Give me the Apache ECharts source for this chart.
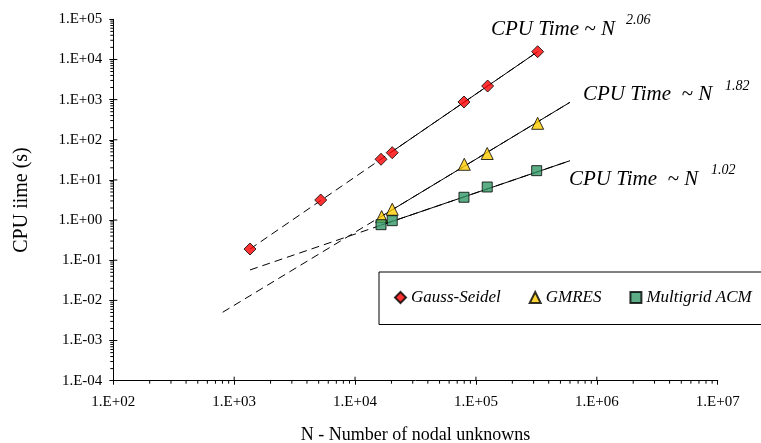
<!DOCTYPE html>
<html>
<head>
<meta charset="utf-8">
<script src="https://cdn.jsdelivr.net/npm/echarts@6/dist/echarts.min.js"></script>
<style>
html,body{margin:0;padding:0;background:#fff;}
#chart{width:761px;height:443px;}
</style>
</head>
<body>
<div id="chart"></div>
<script>
// ---- data ----
const xTickLabels = ['1.E+02','1.E+03','1.E+04','1.E+05','1.E+06','1.E+07'];
const yTickLabels = ['1.E-04','1.E-03','1.E-02','1.E-01','1.E+00','1.E+01','1.E+02','1.E+03','1.E+04','1.E+05'];
const xDecades = [100, 1000, 10000, 100000, 1000000];
const yDecades = [1e-4, 1e-3, 1e-2, 1e-1, 1, 10, 100, 1000, 10000];
const minorMultipliers = [2, 3, 4, 5, 6, 7, 8, 9];

const gsN = [1352, 5200, 16400, 20300, 79600, 125000, 324000];
const gsT = [0.19, 3.16, 32.7, 47.7, 873, 2180, 15600];
const gmresN = [16600, 20300, 80100, 124000, 324000];
const gmresT = [1.22, 1.86, 24.5, 45.5, 257];
const mgN = [16400, 20300, 79600, 124000, 318000];
const mgT = [0.768, 0.966, 3.70, 6.67, 17.0];

// fitted power-law lines (end points)
const gsFitDashed = [[1352, 0.19], [324000, 15600]];
const gsFitSolid = [[20300, 51], [324000, 15600]];
const gmresFitDashed = [[803, 0.00506], [600000, 858]];
const gmresFitSolid = [[16600, 1.25], [600000, 858]];
const mgFitDashed = [[1352, 0.0573], [600000, 30.1]];
const mgFitSolid = [[16400, 0.745], [600000, 30.1]];

const fitLabels = ['CPU Time ~ N', 'CPU Time  ~ N', 'CPU Time  ~ N'];
const fitExponents = ['2.06', '1.82', '1.02'];

const seriesNames = ['Gauss-Seidel', 'GMRES', 'Multigrid ACM'];
const xTitle = 'N - Number of nodal unknowns';
const yTitle = 'CPU iime (s)';

// ---- build ----
const FONT = "'Liberation Serif','Times New Roman',serif";
const pairs = (xs, ys) => xs.map((x, i) => [x, ys[i]]);

const xMinor = [], yMinor = [];
xDecades.forEach(d => minorMultipliers.forEach(m => xMinor.push([d * m, 1e-4])));
yDecades.forEach(d => minorMultipliers.forEach(m => yMinor.push([100, d * m])));
const xMajor = xDecades.slice(1).map(d => [d, 1e-4]);
const yMajor = yDecades.slice(1).map(d => [100, d]);

function tickSeries(data, dir, len) {
  return {
    type: 'custom', silent: true, clip: false, z: 1,
    data: data,
    renderItem: function (params, api) {
      const p = api.coord([api.value(0), api.value(1)]);
      let shape;
      if (dir === 'down') shape = { x1: p[0], y1: p[1], x2: p[0], y2: p[1] + len };
      else if (dir === 'up') shape = { x1: p[0], y1: p[1], x2: p[0], y2: p[1] - len };
      else if (dir === 'left') shape = { x1: p[0] - len, y1: p[1], x2: p[0], y2: p[1] };
      else shape = { x1: p[0], y1: p[1], x2: p[0] + len, y2: p[1] };
      return { type: 'line', shape: shape, style: { stroke: '#000', lineWidth: 1 } };
    }
  };
}

function fitLine(data, dashed) {
  return {
    type: 'line', data: data, symbol: 'none', silent: true, z: 2,
    lineStyle: { color: '#000', width: 1, type: dashed ? [8, 5] : 'solid' },
    animation: false
  };
}

const annPos = [
  { x: 491, y: 31, sx: 626, sy: 21 },
  { x: 583, y: 96, sx: 725, sy: 87 },
  { x: 569, y: 181, sx: 711, sy: 171 }
];
const annGraphics = [];
fitLabels.forEach((t, i) => {
  annGraphics.push({
    type: 'text', left: annPos[i].x, top: annPos[i].y - 12,
    style: { text: t, font: 'italic 21px ' + FONT, fill: '#000' }
  });
  annGraphics.push({
    type: 'text', left: annPos[i].sx, top: annPos[i].sy - 8,
    style: { text: fitExponents[i], font: 'italic 14px ' + FONT, fill: '#000' }
  });
});

const chart = echarts.init(document.getElementById('chart'));
chart.setOption({
  animation: false,
  backgroundColor: '#fff',
  textStyle: { fontFamily: FONT },
  grid: { left: 113.3, right: 43.3, top: 19.3, bottom: 62.3, containLabel: false, outerBoundsMode: 'none' },
  xAxis: {
    type: 'log', logBase: 10, min: 100, max: 1e7, splitNumber: 5,
    axisLine: { lineStyle: { color: '#000', width: 1 } },
    axisTick: { show: true, length: 4, lineStyle: { color: '#000' } },
    splitLine: { show: false },
    axisLabel: {
      color: '#000', fontSize: 15, fontFamily: FONT, margin: 14,
      formatter: v => xTickLabels[Math.round(Math.log10(v)) - 2]
    },
    name: xTitle, nameLocation: 'middle', nameGap: 46,
    nameTextStyle: { color: '#000', fontSize: 18, fontFamily: FONT }
  },
  yAxis: {
    type: 'log', logBase: 10, min: 1e-4, max: 1e5, splitNumber: 9,
    axisLine: { show: true, lineStyle: { color: '#000', width: 1 } },
    axisTick: { show: true, length: 4, lineStyle: { color: '#000' } },
    splitLine: { show: false },
    axisLabel: {
      color: '#000', fontSize: 15, fontFamily: FONT, margin: 11,
      formatter: v => yTickLabels[Math.round(Math.log10(v)) + 4]
    },
    name: yTitle, nameLocation: 'middle', nameGap: 82, nameRotate: 90,
    nameTextStyle: { color: '#000', fontSize: 20, fontFamily: FONT }
  },
  legend: {
    data: seriesNames, left: 394, top: 289, padding: 0, width: 367,
    itemWidth: 11, itemHeight: 11, itemGap: 28,
    textStyle: { fontStyle: 'italic', fontSize: 17, fontFamily: FONT, color: '#000' },
    selectedMode: false
  },
  graphic: [
    { type: 'rect', left: 378.5, top: 271.5, z: -1,
      shape: { width: 420, height: 52.5 },
      style: { fill: '#fff', stroke: '#000', lineWidth: 1 } }
  ].concat(annGraphics),
  series: [
    tickSeries(xMinor, 'down', 3),
    tickSeries(yMinor, 'left', 3),
    tickSeries(xMajor, 'up', 4),
    tickSeries(yMajor, 'right', 4),
    fitLine(gsFitDashed, true),
    fitLine(gsFitSolid, false),
    fitLine(gmresFitDashed, true),
    fitLine(gmresFitSolid, false),
    fitLine(mgFitDashed, true),
    fitLine(mgFitSolid, false),
    { name: seriesNames[0], type: 'scatter', symbol: 'diamond', symbolSize: 12, z: 5,
      data: pairs(gsN, gsT),
      itemStyle: { color: '#FF0000', borderColor: '#000', borderWidth: 1 } },
    { name: seriesNames[1], type: 'scatter', symbol: 'triangle', symbolSize: 12, z: 5,
      data: pairs(gmresN, gmresT),
      itemStyle: { color: '#FFCC00', borderColor: '#000', borderWidth: 1 } },
    { name: seriesNames[2], type: 'scatter', symbol: 'rect', symbolSize: 10, z: 5,
      data: pairs(mgN, mgT),
      itemStyle: { color: '#339966', borderColor: '#000', borderWidth: 1 } }
  ]
});
</script>
</body>
</html>
